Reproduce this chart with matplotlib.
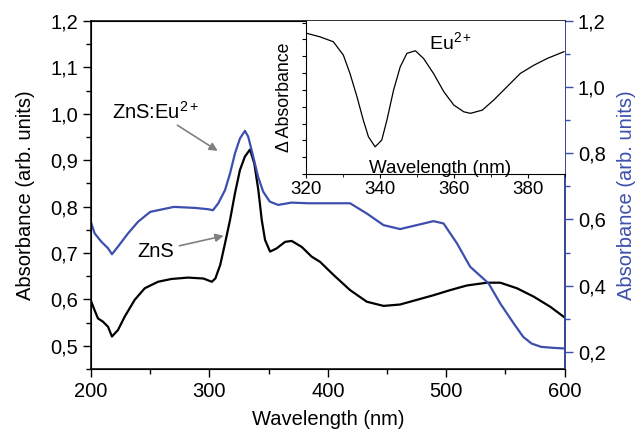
import matplotlib
matplotlib.use("Agg")
import matplotlib.pyplot as plt
from matplotlib.ticker import MultipleLocator, FuncFormatter

plt.rcParams['font.family'] = ['Liberation Sans', 'DejaVu Sans']
plt.rcParams['mathtext.fontset'] = 'custom'
plt.rcParams['mathtext.rm'] = 'Liberation Sans'
plt.rcParams['mathtext.it'] = 'Liberation Sans'
plt.rcParams['mathtext.bf'] = 'Liberation Sans'

# ZnS (left axis)
zns_wl = [200.3, 203, 205.9, 210.1, 214.4, 217.7, 222.8, 228.5, 236.9, 245.4, 256.6, 267.8, 281.9, 295, 300,
          302, 305, 309.1, 313.2, 317.4, 321.6, 325.8, 330, 334.3, 337.9, 341.3, 344.2, 347, 351.2, 356.8,
          363.9, 369.5, 378, 386.4, 393.4, 404.7, 418.8, 432.9, 447, 461, 475.1, 489.2, 503.3, 517.4, 534.3,
          545.6, 559.7, 573.8, 587.9, 600]
zns_abs = [0.595, 0.577, 0.559, 0.552, 0.541, 0.520, 0.534, 0.563, 0.599, 0.624, 0.638, 0.644, 0.647, 0.645,
           0.640, 0.638, 0.645, 0.674, 0.721, 0.771, 0.829, 0.879, 0.908, 0.923, 0.893, 0.836, 0.771, 0.728,
           0.703, 0.710, 0.724, 0.726, 0.713, 0.692, 0.681, 0.653, 0.620, 0.595, 0.586, 0.589, 0.599, 0.609,
           0.620, 0.630, 0.636, 0.636, 0.624, 0.606, 0.584, 0.561]

# ZnS:Eu2+ (right axis)
eu_wl = [200.3, 203.1, 208.7, 214.4, 217.7, 222.8, 231.3, 239.7, 250, 270, 287.8, 299, 303, 307.5, 313.2,
         317.4, 321.6, 325.8, 330, 332.8, 337, 341.1, 345.4, 351, 358, 369.3, 383.4, 393.4, 418.8, 432.9,
         447, 461, 475.1, 489.2, 497.7, 509, 520.2, 535.7, 545.6, 556.9, 565, 572, 580, 590, 600]
eu_abs = [0.588, 0.558, 0.533, 0.513, 0.495, 0.518, 0.558, 0.593, 0.623, 0.638, 0.635, 0.631, 0.628, 0.649,
          0.689, 0.739, 0.800, 0.845, 0.868, 0.850, 0.790, 0.729, 0.684, 0.654, 0.644, 0.651, 0.649, 0.649,
          0.649, 0.618, 0.583, 0.571, 0.583, 0.595, 0.588, 0.528, 0.457, 0.407, 0.346, 0.286, 0.245, 0.225,
          0.215, 0.212, 0.210]

# Inset: difference spectrum (arbitrary units)
ins_wl = [320.2, 323.8, 327.4, 330.1, 331.9, 333.8, 335.5, 336.9, 338.7, 340.5, 341.9, 343.7, 345.5, 347.3,
          349.6, 351.8, 354.5, 357.3, 360.0, 362.7, 364.5, 367.7, 370.8, 374.4, 378.0, 381.7, 385.3, 389.8]
ins_val = [0.920, 0.897, 0.865, 0.778, 0.658, 0.505, 0.353, 0.244, 0.178, 0.222, 0.353, 0.549, 0.701, 0.789,
           0.806, 0.756, 0.658, 0.538, 0.451, 0.407, 0.397, 0.418, 0.484, 0.571, 0.658, 0.712, 0.756, 0.800]

BLUE = '#3c4fae'
FS = 14.5
comma = FuncFormatter(lambda v, p: f"{v:.1f}".replace('.', ','))

fig = plt.figure(figsize=(6.38, 4.33), dpi=100)
ax = fig.add_axes([0.1426, 0.1478, 0.7425, 0.8037])
ax2 = ax.twinx()

ax.plot(zns_wl, zns_abs, color='black', lw=1.6, solid_joinstyle='round')
ax2.plot(eu_wl, eu_abs, color=BLUE, lw=1.6, solid_joinstyle='round')

ax.set_xlim(200, 600)
ax.set_ylim(0.45, 1.2)
ax2.set_ylim(0.148, 1.2)

ax.xaxis.set_major_locator(MultipleLocator(100))
ax.xaxis.set_minor_locator(MultipleLocator(50))
ax.yaxis.set_major_locator(MultipleLocator(0.1))
ax.yaxis.set_minor_locator(MultipleLocator(0.05))
ax.yaxis.set_major_formatter(comma)
ax2.yaxis.set_major_locator(MultipleLocator(0.2))
ax2.yaxis.set_minor_locator(MultipleLocator(0.1))
ax2.yaxis.set_major_formatter(comma)

for a in (ax, ax2):
    a.tick_params(which='major', length=6, width=1, labelsize=FS)
    a.tick_params(which='minor', length=3.5, width=1)
ax.tick_params(axis='x', which='both', top=False)
ax2.spines['right'].set_color(BLUE)
ax2.tick_params(axis='y', which='both', colors=BLUE, labelcolor='black')
for s in ax.spines.values():
    s.set_linewidth(1.1)
ax2.spines['right'].set_linewidth(1.1)

ax.set_xlabel('Wavelength (nm)', fontsize=FS, labelpad=6)
ax.set_ylabel('Absorbance (arb. units)', fontsize=FS, labelpad=11)
ax2.set_ylabel('Absorbance (arb. units)', fontsize=FS, color=BLUE, labelpad=8)

ax.annotate('ZnS:Eu$^{2+}$', xy=(307, 0.92), xytext=(218, 0.99), fontsize=FS,
            va='baseline', ha='left',
            arrowprops=dict(arrowstyle='-|>', color='#808080', lw=1.2, shrinkA=0, shrinkB=0,
                            mutation_scale=12), zorder=5)
ax.annotate('ZnS', xy=(312, 0.737), xytext=(239, 0.704), fontsize=FS, va='center', ha='left',
            arrowprops=dict(arrowstyle='-|>', color='#808080', lw=1.2, shrinkA=2, shrinkB=0,
                            mutation_scale=12), zorder=5)

# inset
axi = fig.add_axes([0.4796, 0.598, 0.4055, 0.3533])
axi.plot(ins_wl, ins_val, color='black', lw=0.9, solid_joinstyle='round')
axi.set_xlim(320, 390)
axi.set_ylim(0, 1)
axi.spines['top'].set_visible(False)
axi.spines['right'].set_visible(False)
axi.xaxis.set_major_locator(MultipleLocator(20))
axi.xaxis.set_minor_locator(MultipleLocator(10))
axi.yaxis.set_major_locator(MultipleLocator(0.11))
axi.yaxis.set_minor_locator(MultipleLocator(0.055))
axi.tick_params(axis='y', which='major', length=3, labelleft=False)
axi.tick_params(axis='y', which='minor', length=0)
axi.tick_params(axis='x', which='major', length=3, labelsize=13.5, pad=2)
axi.tick_params(axis='x', which='minor', length=2)
axi.set_xlabel('Wavelength (nm)', fontsize=13.5)
axi.xaxis.set_label_coords(0.52, 0.09)
axi.set_ylabel('Δ Absorbance', fontsize=12.8, labelpad=6)
axi.text(0.475, 0.86, 'Eu$^{2+}$', transform=axi.transAxes, fontsize=14, ha='left', va='center')

fig.savefig('out.png', dpi=100)
